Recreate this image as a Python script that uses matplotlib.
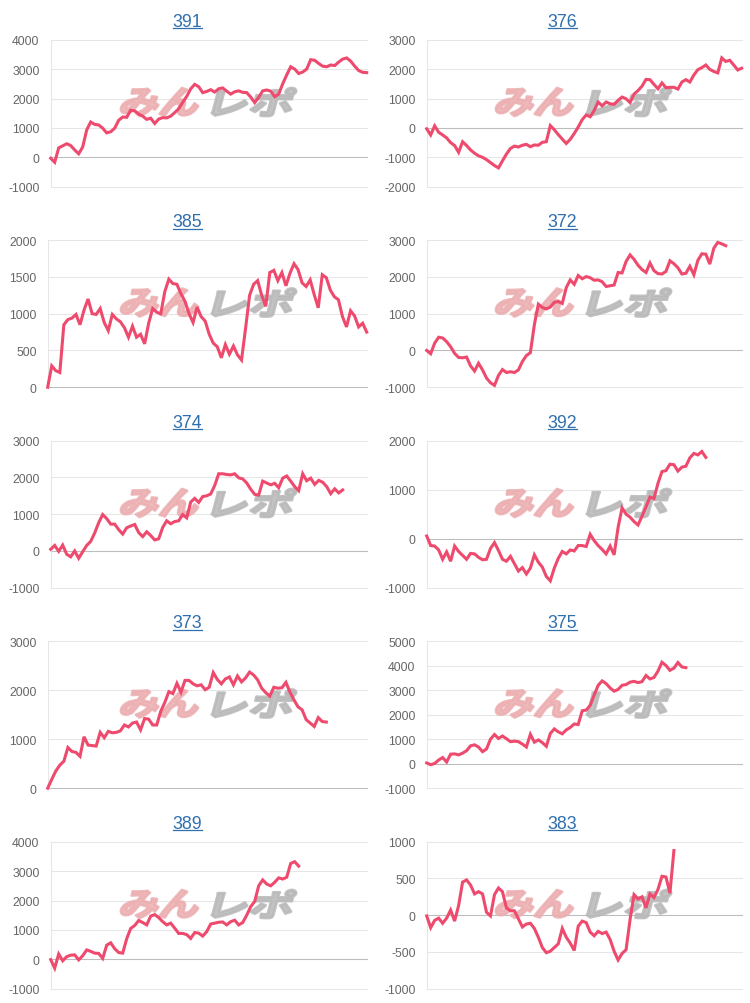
import numpy as np
import matplotlib
matplotlib.use("Agg")
import matplotlib.pyplot as plt
from matplotlib.textpath import TextPath
from matplotlib.patches import PathPatch
from matplotlib.font_manager import FontProperties
from matplotlib.transforms import Affine2D
from matplotlib.lines import Line2D

plt.rcParams['font.family'] = ['Liberation Sans', 'DejaVu Sans']
plt.rcParams['axes.unicode_minus'] = False

# number of x slots on every chart (shared label axis)
N_SLOTS = 80

titles = ['391', '376', '385', '372', '374', '392', '373', '375', '389', '383']

v391 = [-30, -170, 320, 390, 460, 400, 250, 120, 350, 930,
        1200, 1120, 1100, 990, 830, 870, 990, 1260, 1370, 1360,
        1600, 1580, 1470, 1400, 1290, 1330, 1150, 1300, 1350, 1340,
        1400, 1520, 1650, 1870, 2070, 2330, 2480, 2400, 2200, 2240,
        2300, 2220, 2330, 2360, 2250, 2150, 2230, 2260, 2210, 2200,
        2050, 1860, 2040, 2260, 2290, 2250, 2060, 2150, 2500, 2800,
        3080, 3000, 2850, 2900, 3000, 3320, 3300, 3190, 3100, 3080,
        3140, 3120, 3240, 3340, 3380, 3270, 3100, 2950, 2890, 2880]
v376 = [-30, -240, 70, -150, -240, -340, -500, -600, -830, -470,
        -600, -750, -860, -950, -1000, -1080, -1180, -1280, -1360, -1120,
        -890, -700, -620, -650, -590, -560, -640, -580, -590, -490,
        -470, 80, -60, -230, -380, -530, -390, -190, 30, 280,
        440, 380, 590, 880, 750, 880, 820, 800, 940, 1050,
        990, 860, 1150, 1270, 1420, 1650, 1640, 1480, 1330, 1530,
        1370, 1380, 1380, 1320, 1560, 1640, 1560, 1800, 1980, 2050,
        2140, 1990, 1920, 1870, 2380, 2260, 2300, 2140, 1970, 2030]
v385 = [0, 290, 225, 200, 850, 920, 940, 990, 850, 1050,
        1200, 1000, 990, 1070, 880, 770, 990, 930, 890, 810,
        680, 830, 680, 720, 590, 870, 1070, 1020, 1000, 1300,
        1470, 1410, 1400, 1270, 1170, 1000, 880, 1090, 960, 900,
        720, 600, 550, 400, 580, 450, 560, 440, 370, 800,
        1250, 1400, 1450, 1250, 1100, 1560, 1590, 1450, 1560, 1380,
        1550, 1680, 1600, 1420, 1370, 1460, 1260, 1080, 1530, 1490,
        1320, 1230, 1190, 960, 820, 1040, 970, 820, 870, 750]
v372 = [0, -90, 200, 360, 340, 240, 100, -80, -190, -200,
        -180, -420, -560, -350, -530, -750, -880, -950, -680, -520,
        -600, -580, -600, -530, -300, -140, -60, 700, 1260, 1170,
        1130, 1180, 1310, 1330, 1280, 1710, 1920, 1800, 2040, 1950,
        2010, 1980, 1910, 1920, 1870, 1740, 1760, 1780, 2120, 2110,
        2420, 2600, 2480, 2320, 2200, 2120, 2380, 2170, 2090, 2080,
        2150, 2440, 2360, 2250, 2080, 2100, 2290, 2060, 2450, 2630,
        2620, 2350, 2780, 2940, 2900, 2850]
v374 = [45, 150, -10, 160, -90, -160, 0, -200, -20, 150,
        260, 490, 770, 990, 880, 730, 730, 580, 460, 630,
        680, 720, 500, 390, 520, 420, 300, 330, 640, 820,
        740, 800, 820, 990, 900, 1330, 1430, 1320, 1480, 1500,
        1550, 1780, 2100, 2100, 2080, 2070, 2100, 1990, 1960, 1850,
        1680, 1540, 1520, 1900, 1850, 1800, 1840, 1720, 1980, 2040,
        1900, 1750, 1640, 2100, 1910, 1980, 1810, 1920, 1870, 1750,
        1560, 1690, 1580, 1660]
v392 = [55, -140, -150, -230, -420, -270, -460, -150, -260, -340,
        -420, -300, -310, -380, -430, -420, -200, -80, -240, -420,
        -460, -360, -510, -660, -590, -720, -600, -330, -480, -580,
        -770, -860, -600, -400, -260, -310, -230, -250, -140, -140,
        -160, 90, -40, -140, -220, -310, -150, -330, 230, 630,
        500, 440, 350, 280, 460, 650, 850, 820, 1130, 1370,
        1390, 1520, 1510, 1380, 1460, 1480, 1650, 1740, 1710, 1780,
        1660]
v373 = [0, 180, 350, 470, 550, 830, 750, 730, 650, 1050,
        880, 870, 860, 1140, 1030, 1160, 1130, 1140, 1170, 1290,
        1250, 1330, 1350, 1190, 1420, 1410, 1290, 1290, 1570, 1750,
        1970, 1930, 2140, 1960, 2200, 2200, 2130, 2090, 2110, 2010,
        2060, 2360, 2220, 2130, 2230, 2270, 2110, 2290, 2170, 2250,
        2370, 2310, 2210, 2040, 1950, 1880, 2060, 2040, 2050, 2160,
        1960, 1800, 1660, 1600, 1400, 1330, 1260, 1440, 1360, 1350]
v375 = [30, -40, 10, 150, 250, 70, 390, 400, 360, 430,
        530, 730, 770, 680, 490, 600, 1000, 1190, 1030, 1130,
        1020, 900, 920, 900, 800, 680, 1200, 880, 970, 860,
        710, 1230, 1420, 1300, 1220, 1380, 1480, 1620, 1600, 2160,
        2190, 2380, 2800, 3200, 3380, 3270, 3090, 2960, 3030, 3200,
        3230, 3330, 3360, 3310, 3350, 3600, 3460, 3520, 3780, 4140,
        4010, 3810, 3900, 4130, 3950, 3920]
v389 = [-10, -300, 180, -50, 90, 140, 150, -20, 120, 320,
        270, 210, 200, 30, 480, 560, 360, 230, 210, 700,
        1050, 1150, 1320, 1250, 1170, 1470, 1520, 1420, 1280, 1170,
        1230, 1060, 880, 880, 840, 710, 910, 890, 790, 940,
        1200, 1230, 1260, 1270, 1170, 1280, 1330, 1170, 1250, 1500,
        1790, 1970, 2500, 2700, 2560, 2500, 2620, 2770, 2730, 2790,
        3260, 3320, 3170]
v383 = [-10, -170, -70, -40, -110, -40, 70, -80, 130, 450,
        480, 410, 290, 320, 290, 40, -10, 280, 370, 320,
        100, 60, 60, -50, -160, -120, -110, -180, -300, -440,
        -510, -490, -440, -390, -180, -300, -380, -480, -150, -80,
        -100, -230, -280, -220, -250, -230, -330, -490, -610, -520,
        -470, -60, 280, 220, 250, 100, 290, 240, 350, 530,
        520, 300, 880]

series = [v391, v376, v385, v372, v374, v392, v373, v375, v389, v383]

# y axis (min, max, step) per chart
y_ranges = [(-1000, 4000, 1000), (-2000, 3000, 1000), (0, 2000, 500),
            (-1000, 3000, 1000), (-1000, 3000, 1000), (-1000, 2000, 1000),
            (0, 3000, 1000), (-1000, 5000, 1000), (-1000, 4000, 1000),
            (-1000, 1000, 500)]

W, H = 750, 1004
fig = plt.figure(figsize=(W / 100, H / 100), dpi=100)

LINE_COLOR = '#ee4a6d'
TITLE_COLOR = '#2f6fae'
wm_prop = FontProperties(family='Noto Sans CJK JP', weight='bold')
wm_parts = [('みん', '#ecadaf', 119, 84), ('レポ', '#b8b8b8', 211, 86)]

title_texts = []
for k, (title, vals, (lo, hi, step)) in enumerate(zip(titles, series, y_ranges)):
    r, c = divmod(k, 2)
    top = 40.7 + 200.5 * r
    bottom = top + 147
    left = (50.7 if lo < 0 else 47.7) + 376 * c
    right = 366.7 + 375 * c
    ax = fig.add_axes([left / W, 1 - bottom / H, (right - left) / W, (bottom - top) / H])

    ax.plot(np.arange(len(vals)), vals, color=LINE_COLOR, lw=2.2,
            clip_on=False, zorder=3, solid_joinstyle='miter')
    ax.set_xlim(0, N_SLOTS - 1)
    ax.set_ylim(lo, hi)
    ax.set_yticks(np.arange(lo, hi + step, step))
    ax.set_xticks([])
    ax.tick_params(axis='y', length=0, pad=8, labelsize=8.8, labelcolor='#666666')
    ax.set_axisbelow(True)
    ax.grid(axis='y', color='#e6e6e6', lw=0.75)
    for gl in ax.get_ygridlines():
        gl.set_clip_on(False)
    ax.axhline(0, color='#bdbdbd', lw=0.75, zorder=0.6, clip_on=False)
    for s in ['top', 'right', 'bottom']:
        ax.spines[s].set_visible(False)
    ax.spines['left'].set_color('#e6e6e6')
    ax.spines['left'].set_linewidth(0.75)

    # watermark (heavy slanted logo text)
    for text, color, x_off, width in wm_parts:
        tp = TextPath((0, 0), text, size=40, prop=wm_prop)
        bb = tp.get_extents()
        h = 28
        sx = (width - h * 0.27) / bb.width
        sy = h / bb.height
        tr = (Affine2D().translate(-bb.x0, -bb.y0).scale(sx, sy)
              .skew_deg(15, 0).translate(375 * c + x_off, H - (top + 76.3)))
        ax.add_patch(PathPatch(tp, transform=tr, facecolor=color,
                               edgecolor=color, lw=2.0, joinstyle='round',
                               alpha=0.85, zorder=1.5))

    t = fig.text((187.5 + 375 * c) / W, 1 - (top - 14) / H, title,
                 ha='center', va='baseline', fontsize=12.75, color=TITLE_COLOR)
    title_texts.append(t)

# underline the titles (links)
fig.canvas.draw()
renderer = fig.canvas.get_renderer()
for t in title_texts:
    bb = t.get_window_extent(renderer)
    y = bb.y0 + 1.5
    fig.add_artist(Line2D([bb.x0 / W, bb.x1 / W], [y / H, y / H],
                          color=TITLE_COLOR, lw=0.9, transform=fig.transFigure))

fig.savefig('out.png', dpi=100)
